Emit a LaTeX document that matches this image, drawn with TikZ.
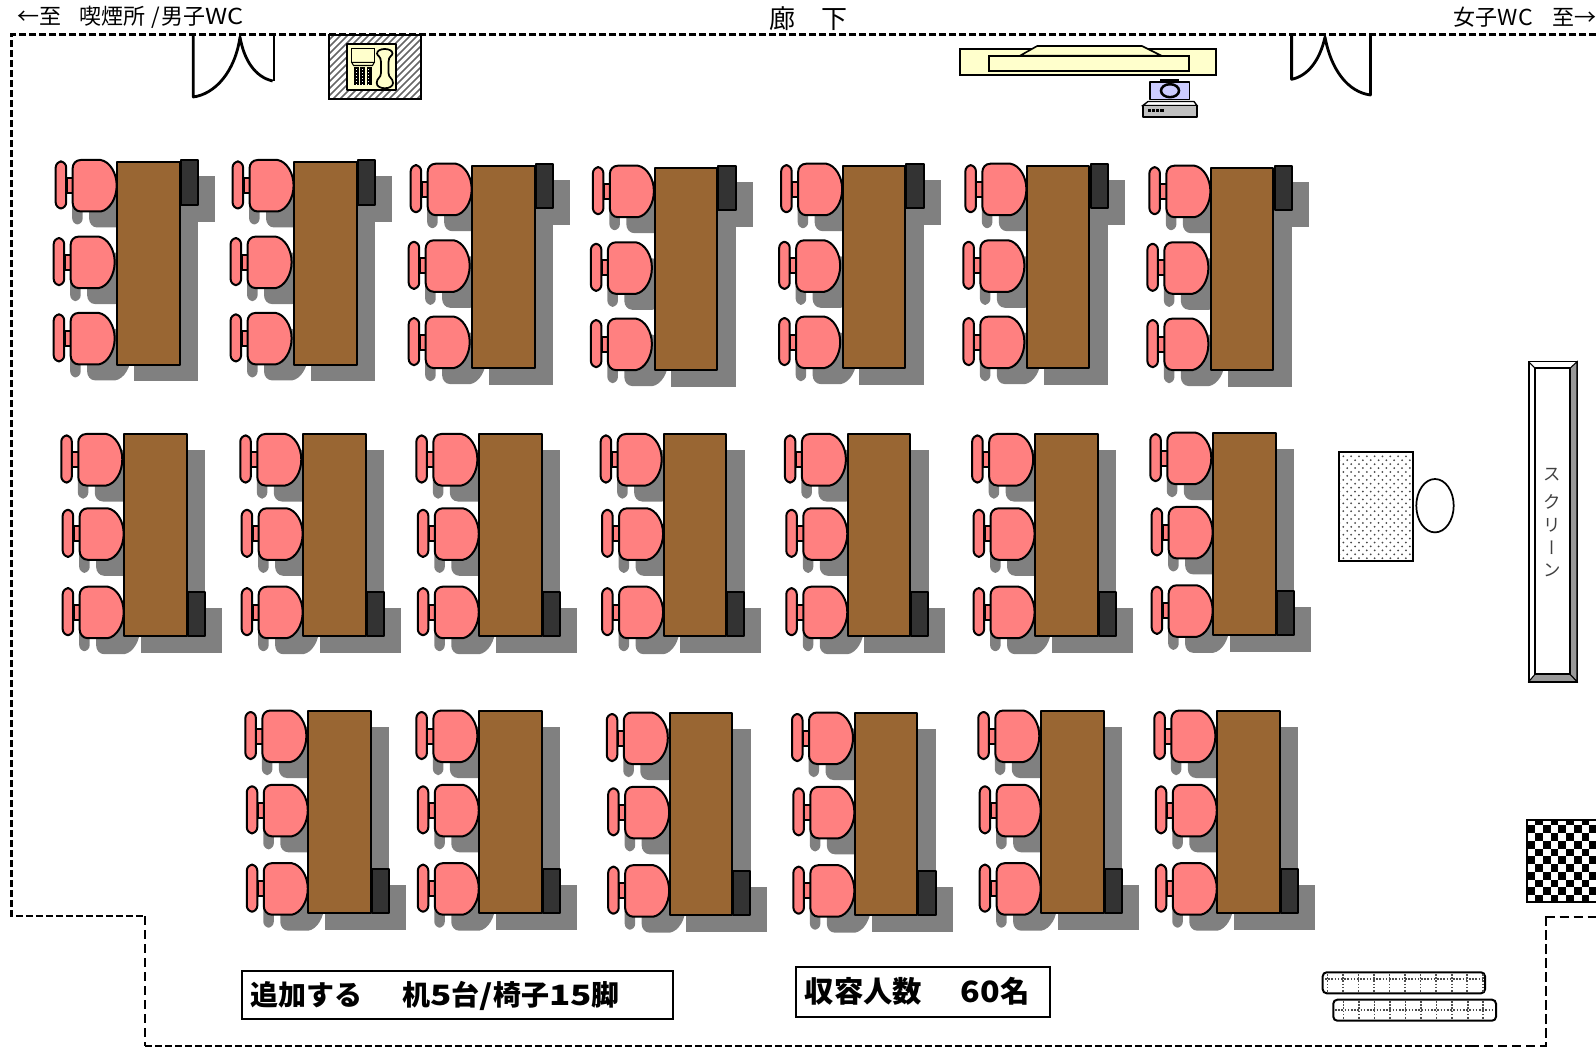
\documentclass[tikz,border=0pt]{standalone}
\usepackage{fontspec}
\usepackage{graphicx}
\setmainfont{Noto Sans CJK JP}
\newfontfamily\vjp[RawFeature={+vert}]{Noto Sans CJK JP}
\definecolor{chairc}{HTML}{FF8080}
\definecolor{deskc}{HTML}{996633}
\definecolor{pcc}{HTML}{333333}
\definecolor{shadowc}{HTML}{808080}
\definecolor{yellowc}{HTML}{FFFFCC}
\definecolor{camc}{HTML}{CCCCFF}
\definecolor{basec}{HTML}{C0C0C0}
\newcommand{\wide}[2]{\scalebox{#1}[1]{#2}}
\tikzset{
  ink/.style={draw=black,line width=1.5pt,line join=round},
  wallthick/.style={draw=black,line width=2pt,dash pattern=on 5.2pt off 2.3pt},
  wallthin/.style={draw=black,line width=1.4pt,dash pattern=on 7pt off 3.5pt},
  doorline/.style={draw=black,line width=2.1pt,line join=round},
  toptext/.style={inner sep=0pt,font=\fontsize{16.5}{16.5}\selectfont},
  boldtext/.style={inner sep=0pt,font=\fontsize{21}{21}\selectfont\bfseries},
  boldtextb/.style={inner sep=0pt,font=\fontsize{22}{22}\selectfont\bfseries},
  screentext/.style={inner sep=0pt,text=black!75,font=\fontsize{13}{13}\selectfont},
  noticebox/.style={draw=black,line width=1.4pt,fill=white},
  traybox/.style={draw=black,line width=1.5pt,rounded corners=3pt,fill=white},
  traydots/.style={draw=black!70,line width=1.2pt,dash pattern=on 1.2pt off 1.2pt},
}
% one chair: seat's top right at (#1,#2); #3 = drawing options
\newcommand{\onechair}[3]{%
  \path[#3] (#1-50,#2+18) rectangle (#1-43,#2+33);
  \path[#3,rounded corners=4.5pt] (#1-61,#2+1.5) rectangle (#1-50.5,#2+48.5);
  \path[#3] (#1-36,#2) -- (#1-16,#2) .. controls (#1-7,#2+1.5) and (#1,#2+13) .. (#1,#2+25.5)
     .. controls (#1,#2+38) and (#1-7,#2+50) .. (#1-16,#2+51.5) -- (#1-36,#2+51.5)
     .. controls (#1-41,#2+51.5) and (#1-44,#2+47) .. (#1-44,#2+43) -- (#1-44,#2+8)
     .. controls (#1-44,#2+4) and (#1-41,#2) .. (#1-36,#2) -- cycle;
}
% #1,#2 desk top-left; chair offsets A = front row pattern, B = others
\newcommand{\unitA}[2]{%
  \begin{scope}[shift={(#1,#2)}]
    \begin{scope}[shift={(16.5,16)}]
      \onechair{-0.6}{-2.3}{fill=shadowc}\onechair{-2.6}{74.3}{fill=shadowc}\onechair{-2.6}{150.6}{fill=shadowc}
      \fill[shadowc] (0,0) rectangle (64.5,203);
      \fill[shadowc] (63.5,-2) rectangle (81.5,43.5);
    \end{scope}
    \onechair{-0.6}{-2.3}{ink,fill=chairc}\onechair{-2.6}{74.3}{ink,fill=chairc}\onechair{-2.6}{150.6}{ink,fill=chairc}
    \path[ink,fill=deskc] (0,0) rectangle (62.3,202.3);
    \path[ink,fill=pcc] (63.5,-2) rectangle (81,42.5);
  \end{scope}
}
\newcommand{\unitB}[2]{%
  \begin{scope}[shift={(#1,#2)}]
    \begin{scope}[shift={(16.5,16)}]
      \onechair{-2}{0}{fill=shadowc}\onechair{-0.6}{74.3}{fill=shadowc}\onechair{-0.6}{152.7}{fill=shadowc}
      \fill[shadowc] (0,0) rectangle (64.5,203);
      \fill[shadowc] (63.3,158) rectangle (81,203);
    \end{scope}
    \onechair{-2}{0}{ink,fill=chairc}\onechair{-0.6}{74.3}{ink,fill=chairc}\onechair{-0.6}{152.7}{ink,fill=chairc}
    \path[ink,fill=deskc] (0,0) rectangle (62.3,202.3);
    \path[ink,fill=pcc] (63.3,158) rectangle (80.5,202);
  \end{scope}
}
\begin{document}
\begin{tikzpicture}[x=0.75pt,y=-0.75pt]
\useasboundingbox (0,0) rectangle (1596,1048);
% walls
\path[wallthick] (1596,34.5) -- (11.7,34.5) -- (11.7,916) -- (145,916);
\path[wallthin] (145,916) -- (145,1046);
\path[wallthick] (145,1046) -- (1470,1046);
\path[wallthin] (1470,1046) -- (1545.7,1046) -- (1545.7,912);
\path[wallthin] (1545.7,916.7) -- (1596,916.7);
% doors
\path[doorline] (193.3,34) -- (193.3,97) .. controls (215,94) and (235,72) .. (240,37) .. controls (244,60) and (255,77) .. (272.7,81);
\path[doorline] (274,34) -- (274,81);
\path[doorline] (1291.6,34) -- (1291.6,79.3) .. controls (1308,76) and (1320,60) .. (1325,37) .. controls (1331,70) and (1348,92) .. (1370.4,95) -- (1370.4,34);
% telephone
\begin{scope}
  \clip (328.7,35) rectangle (421.3,99);
  \foreach \k in {-70,-63,...,110} {\draw[black!60,line width=1.2pt] (320+\k,105) -- (320+\k+75,30);}
\end{scope}
\path[draw=black,line width=1.6pt] (328.7,35) rectangle (421.3,99);
\path[ink,fill=yellowc] (346.7,44.5) rectangle (395.5,90.5);
\path[draw=black,line width=1pt,fill=yellowc] (351.7,48.5) rectangle (374.3,62.3);
\path[draw=black,line width=0.8pt,fill=yellowc] (351.7,62.3) -- (374.3,62.3) -- (372.5,65.5) -- (353.5,65.5) -- cycle;
\foreach \k in {354.3,360.2,366.7} {
  \fill[black] (\k,67) rectangle (\k+5,85);
  \foreach \m in {69,72,...,84} {\fill[white] (\k+1.6,\m) rectangle (\k+2.6,\m+.8);}
}
\path[draw=black,line width=1.3pt,fill=yellowc] (381,62) .. controls (381,56) and (377,56) .. (377,53.5) .. controls (377,47.5) and (392.5,47.5) .. (392.5,53.5) .. controls (392.5,56) and (388.5,56) .. (388.5,62) -- (388.5,73) .. controls (388.5,78) and (393,78) .. (393,83) .. controls (393,90) and (376.7,90) .. (376.7,83) .. controls (376.7,78) and (381,78) .. (381,73) -- cycle;
% overhead projector
\path[draw=black,line width=1.2pt,fill=yellowc] (959.7,49) rectangle (1216,75.3);
\path[ink,line width=1.2pt,fill=yellowc] (1020,55.7) -- (1037.2,46) -- (1142,46) -- (1161.4,55.7) -- cycle;
\path[draw=black,line width=1.4pt,fill=yellowc] (989,55.7) rectangle (1189.4,71);
% camera on base
\path[draw=black,line width=1pt,fill=black!80] (1161,80) rectangle (1178.6,82);
\path[ink,line width=1.4pt,fill=camc] (1150,82) rectangle (1189.5,99.5);
\path[draw=black,line width=1.9pt,fill=camc] (1170,90.7) ellipse (9 and 6.5);
\path[draw=black,line width=1pt,fill=white] (1148,101.5) -- (1194,101.5) -- (1197,105.5) -- (1142.8,105.5) -- cycle;
\path[ink,line width=1.4pt,fill=basec] (1142.8,105.5) rectangle (1197,116.7);
\foreach \k in {1147.6,1151.8,1156,1160.2} {\fill[black] (\k,109.3) rectangle (\k+3.4,112);}
% desks
\foreach \a/\b in {117.3/162.3,294.2/162.3,472.3/166,654.5/168,842.8/166,1027/166,1211/168} {\unitA{\a}{\b}}
\foreach \a/\b in {124.3/434,303.3/434,479.4/434,663.7/434,847.9/434,1035.2/434,1213.3/432.6} {\unitB{\a}{\b}}
\foreach \a/\b in {308.4/710.5,479.4/710.5,669.8/712.5,855/712.5,1041.3/710.5,1217.4/710.5} {\unitB{\a}{\b}}
% lectern
\begin{scope}
  \clip (1339,452.3) rectangle (1413.3,561.3);
  \foreach \r in {0,...,27} {
    \pgfmathsetmacro{\ox}{mod(\r,2)*3.92}
    \foreach \c in {-1,...,9} {\fill[black!72] (1343.3+\ox+\c*7.83,456.3+\r*3.92) circle (1);}
  }
\end{scope}
\path[draw=black,line width=1.5pt] (1339,452.3) rectangle (1413.3,561.3);
\path[draw=black,line width=1.3pt] (1435,505.7) ellipse (18.7 and 26.7);
% screen
\path[draw=black,line width=1.2pt,fill=white] (1528.7,361.7) rectangle (1577,681.7);
\path[fill=black!40,draw=black,line width=.8pt] (1570,368.3) -- (1577,361.7) -- (1577,681.7) -- (1570,674.3) -- cycle;
\path[fill=black!40,draw=black,line width=.8pt] (1535,674.3) -- (1570,674.3) -- (1577,681.7) -- (1528.7,681.7) -- cycle;
\path[draw=black,line width=1.5pt,fill=white] (1535,368.3) rectangle (1570,674.3);
\draw[black,line width=.8pt] (1528.7,361.7) -- (1535,368.3);
\node[screentext] (s1) at (1552,475) {ス};
\node[screentext] (s2) at (1552,501.7) {ク};
\node[screentext] (s3) at (1552,525) {リ};
\node[screentext,font=\fontsize{13}{13}\selectfont\vjp] (s4) at (1552,548) {ー};
\node[screentext] (s5) at (1552,570) {ン};
% checker
\begin{scope}
  \clip (1526.7,820) rectangle (1596,902);
  \foreach \i in {0,...,9} {\foreach \j in {-1,...,10} {
    \pgfmathtruncatemacro{\pp}{mod(\i+\j+10,2)}
    \ifnum\pp=0 \fill[black] (1527.3+\i*7.75,825.3+\j*7.75) rectangle (1535.05+\i*7.75,833.05+\j*7.75);\fi
  }}
\end{scope}
\path[draw=black,line width=1.3pt] (1596,820) -- (1526.7,820) -- (1526.7,902) -- (1596,902);
% trays
\path[traybox] (1322.7,972.3) rectangle (1485,993.3);
\path[traydots] (1325,979) -- (1483,979);
\foreach \k in {0,...,10} {\path[traydots] (1327.3+\k*15.55,974) -- (1327.3+\k*15.55,992);}
\path[traybox] (1333.3,999.7) rectangle (1496,1020.7);
\path[traydots] (1335,1010) -- (1494,1010);
\foreach \k in {0,...,9} {\path[traydots] (1343.3+\k*15.55,1001) -- (1343.3+\k*15.55,1019);}
% notices
\path[noticebox] (242.3,970.7) rectangle (672.8,1018.7);
\path[noticebox] (796.3,967) rectangle (1050.4,1016.7);
\node[boldtext,anchor=west] (n1) at (250.7,996) {追加する　\hspace{8.5pt}机\wide{1.25}{5}台\wide{1.25}{/}椅子\wide{1.25}{15}脚};
\node[boldtextb,anchor=west] (n2) at (804.5,991) {収容人数　\hspace{7pt}\wide{1.1}{60}名};
% corridor labels
\node[toptext,anchor=west] (t1) at (17,17) {←至\hspace{14pt}喫煙所\hspace{4pt}/\hspace{1pt}男子\wide{1.15}{WC}};
\node[toptext,anchor=east] (t2) at (1597,17) {女子\wide{1.05}{WC}\hspace{15pt}至→};
\node[inner sep=0pt,font=\fontsize{19.5}{19.5}\selectfont] (t3) at (808,19) {廊　下};
\end{tikzpicture}
\end{document}
